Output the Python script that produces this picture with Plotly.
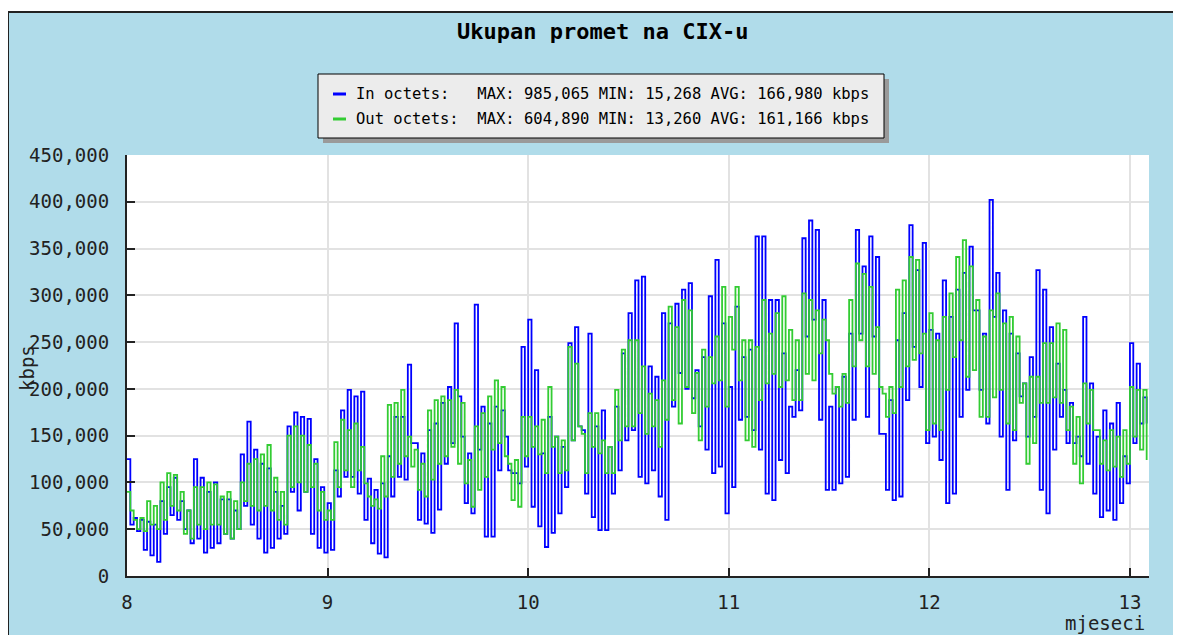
import plotly.graph_objects as go

# daily peak / night values, thousands of kbps (Aug .. start of Jan)
in_hi = [125, 62, 60, 58, 55, 80, 95, 105, 80, 70, 125, 105, 90, 100, 82, 82, 70, 130, 165, 135,
         120, 115, 90, 75, 160, 175, 170, 168, 125, 95,
         78, 113, 177, 199, 192, 197, 104, 92, 99, 128, 170, 170, 226, 142, 131, 156, 163, 185, 202, 270,
         149, 131, 290, 181, 163, 181, 177, 113, 110, 245,
         274, 220, 131, 170, 149, 138, 249, 266, 156, 259, 160, 177, 138, 181, 238, 281, 316, 320, 224, 213,
         281, 270, 291, 306, 313, 220, 234, 299, 338, 270,
         202, 288, 234, 242, 363, 363, 295, 295, 238, 181, 220, 361, 380, 370, 295, 181, 202, 213, 259, 370,
         331, 363, 341, 152, 188, 252, 281, 375, 327, 356,
         263, 259, 316, 277, 306, 324, 352, 284, 259, 402, 324, 284, 259, 238, 206, 234, 327, 306, 266, 227,
         199, 185, 149, 277, 206, 149, 177, 163, 185, 128, 249, 227, 191]
in_lo = [55, 48, 28, 22, 15, 45, 65, 60, 50, 35, 40, 25, 30, 35, 45, 40, 50, 75, 55, 40,
         25, 30, 40, 45, 90, 70, 90, 45, 30, 25,
         28, 85, 106, 106, 88, 60, 35, 24, 20, 85, 106, 103, 142, 60, 56, 46, 71, 120, 142, 192,
         78, 67, 135, 42, 42, 113, 149, 110, 99, 117,
         74, 53, 31, 46, 67, 95, 145, 160, 88, 63, 49, 49, 88, 113, 145, 156, 106, 99, 113, 85,
         60, 181, 217, 200, 190, 160, 135, 110, 117, 67,
         95, 167, 170, 156, 135, 88, 81, 124, 110, 170, 177, 256, 274, 167, 92, 92, 99, 106, 167, 259,
         170, 256, 152, 92, 81, 85, 188, 245, 202, 142,
         149, 124, 78, 88, 170, 199, 284, 199, 163, 277, 149, 92, 145, 192, 149, 170, 92, 67, 135, 170,
         142, 142, 128, 120, 88, 63, 70, 60, 78, 99, 142, 163, 163]
out_hi = [90, 60, 62, 80, 75, 100, 110, 108, 90, 70, 95, 95, 100, 98, 85, 90, 80, 100, 120, 125,
          130, 140, 105, 90, 150, 160, 150, 140, 120, 90,
          70, 143, 167, 156, 163, 138, 85, 82, 128, 183, 185, 199, 149, 135, 120, 177, 188, 192, 188, 199,
          185, 124, 160, 174, 192, 209, 202, 120, 124, 170,
          170, 160, 167, 202, 149, 145, 245, 227, 152, 174, 174, 145, 138, 199, 242, 252, 252, 224, 195, 188,
          209, 288, 266, 295, 284, 217, 242, 234, 256, 309,
          277, 309, 252, 252, 245, 295, 259, 281, 299, 263, 252, 302, 295, 284, 274, 216, 202, 216, 295, 334,
          323, 309, 266, 195, 202, 306, 316, 341, 338, 259,
          281, 252, 277, 302, 341, 359, 331, 295, 256, 284, 302, 270, 277, 256, 206, 213, 213, 249, 249, 270,
          263, 181, 170, 206, 199, 156, 145, 156, 149, 156, 202, 199, 199]
out_lo = [70, 50, 48, 55, 50, 60, 75, 70, 45, 40, 55, 50, 55, 55, 45, 40, 50, 80, 75, 70,
          75, 70, 60, 55, 95, 100, 90, 95, 70, 60,
          60, 95, 113, 95, 113, 99, 75, 72, 85, 106, 120, 128, 117, 92, 85, 103, 120, 128, 138, 120,
          99, 74, 92, 106, 135, 142, 128, 81, 74, 128,
          138, 130, 110, 138, 110, 113, 145, 160, 110, 138, 131, 110, 110, 145, 160, 160, 174, 152, 160, 138,
          167, 188, 163, 202, 174, 145, 181, 206, 209, 181,
          242, 209, 145, 138, 188, 206, 216, 202, 209, 188, 188, 216, 209, 238, 252, 195, 181, 185, 224, 252,
          224, 216, 202, 170, 174, 202, 224, 231, 238, 156,
          163, 156, 199, 234, 252, 213, 220, 170, 170, 191, 199, 163, 156, 185, 120, 142, 185, 185, 191, 185,
          156, 120, 99, 163, 156, 120, 113, 117, 106, 120, 149, 135, 124]

month_ticks = [8, 9, 10, 11, 12, 13]
legend_lines = ["In octets:\u00a0\u00a0\u00a0MAX: 985,065 MIN: 15,268 AVG: 166,980 kbps",
                "Out octets:\u00a0\u00a0MAX: 604,890 MIN: 13,260 AVG: 161,166 kbps"]

# two samples a day, 30 days a month
y_in = [v * 1000 for pair in zip(in_hi, in_lo) for v in pair]
y_out = [v * 1000 for pair in zip(out_hi, out_lo) for v in pair]
x_in = [8 + k / 60 for k in range(len(y_in))]
x_out = [8 + k / 60 for k in range(len(y_out))]

# page coordinates; the html body adds an 8px margin round the figure
W, H = 1181, 635
OFF = 8
L, R, T, B = 127, 1149, 155, 576
def px(X): return (X - L) / (R - L)
def py(Y): return (B - Y) / (B - T)

BLUE = "#0000ff"
GREEN = "#33cc33"
BG = "#b0dcea"
FONT = "DejaVu Sans Mono"

fig = go.Figure()
fig.add_trace(go.Scatter(x=x_in, y=y_in, mode="lines", line=dict(color=BLUE, width=1.8, shape="hv"), name="In octets"))
fig.add_trace(go.Scatter(x=x_out, y=y_out, mode="lines", line=dict(color=GREEN, width=1.8, shape="hv"), name="Out octets"))

shapes = [
    # white margin strips and frame of the image
    dict(type="rect", xref="paper", yref="paper", x0=px(-5), x1=px(W + 5), y0=py(12), y1=py(-5),
         fillcolor="white", line_width=0),
    dict(type="rect", xref="paper", yref="paper", x0=px(-5), x1=px(8), y0=py(H + 5), y1=py(12),
         fillcolor="white", line_width=0),
    dict(type="line", xref="paper", yref="paper", x0=px(8), x1=px(W + 5), y0=py(12), y1=py(12),
         line=dict(color="#222", width=2)),
    dict(type="line", xref="paper", yref="paper", x0=px(8), x1=px(8), y0=py(12), y1=py(H + 5),
         line=dict(color="#222", width=2)),
    # legend box with shadow
    dict(type="rect", xref="paper", yref="paper", x0=px(323), x1=px(889), y0=py(143), y1=py(79),
         fillcolor="#9a9a9a", line_width=0),
    dict(type="rect", xref="paper", yref="paper", x0=px(318), x1=px(884), y0=py(138), y1=py(74),
         fillcolor="#ececec", line=dict(color="black", width=1)),
    dict(type="line", xref="paper", yref="paper", x0=px(333), x1=px(346), y0=py(94), y1=py(94),
         line=dict(color=BLUE, width=3)),
    dict(type="line", xref="paper", yref="paper", x0=px(333), x1=px(346), y0=py(119), y1=py(119),
         line=dict(color=GREEN, width=3)),
]

annotations = [
    dict(text="<b>Ukupan promet na CIX-u</b>", xref="paper", yref="paper", x=px(602), y=py(32),
         xanchor="center", yanchor="middle", showarrow=False, font=dict(family=FONT, size=22, color="black")),
    dict(text=legend_lines[0], xref="paper", yref="paper", x=px(354), y=py(94), xanchor="left", yanchor="middle",
         showarrow=False, font=dict(family=FONT, size=15.5, color="black")),
    dict(text=legend_lines[1], xref="paper", yref="paper", x=px(354), y=py(119), xanchor="left", yanchor="middle",
         showarrow=False, font=dict(family=FONT, size=15.5, color="black")),
    dict(text="kbps", xref="paper", yref="paper", x=px(27), y=py(368), xanchor="center", yanchor="middle",
         textangle=-90, showarrow=False, font=dict(family=FONT, size=19, color="#222")),
    dict(text="mjeseci", xref="paper", yref="paper", x=px(1147), y=py(623), xanchor="right", yanchor="middle",
         showarrow=False, font=dict(family=FONT, size=19, color="#222")),
]

fig.update_layout(
    width=W - OFF, height=H - OFF, autosize=False,
    margin=dict(l=L - OFF, r=W - R, t=T - OFF, b=H - B, pad=0),
    paper_bgcolor=BG, plot_bgcolor="white",
    showlegend=False,
    shapes=shapes, annotations=annotations,
    xaxis=dict(range=[8, 13.095], tickvals=month_ticks, ticktext=[str(m) for m in month_ticks],
               showgrid=True, gridcolor="#e2e2e2", gridwidth=1.5, zeroline=False,
               showline=True, linecolor="#222", linewidth=2,
               ticks="inside", ticklen=8, tickwidth=2, tickcolor="#222",
               ticklabelstandoff=8, tickfont=dict(family=FONT, size=19, color="#222")),
    yaxis=dict(range=[0, 450000], dtick=50000, tickformat=",d",
               showgrid=True, gridcolor="#e2e2e2", gridwidth=1.5, zeroline=False,
               showline=True, linecolor="#222", linewidth=2,
               ticks="inside", ticklen=8, tickwidth=2, tickcolor="#222",
               ticklabelstandoff=12, tickfont=dict(family=FONT, size=19, color="#222")),
)

fig.write_html("out.html")
